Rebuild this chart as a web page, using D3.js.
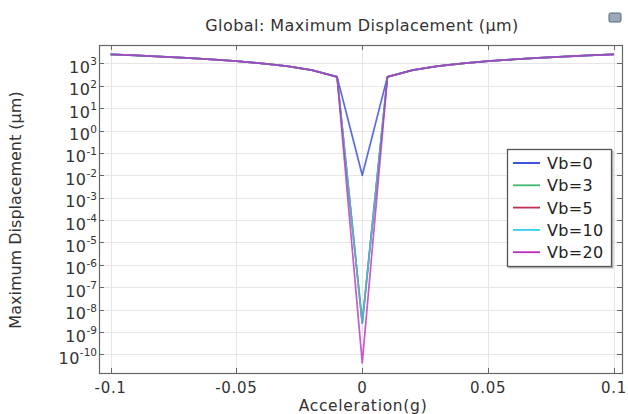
<!DOCTYPE html>
<html>
<head>
<meta charset="utf-8">
<script src="https://cdn.jsdelivr.net/npm/d3@7"></script>
<style>
  body { margin: 0; background: #fff; }
  svg { display: block; font-family: "DejaVu Sans", sans-serif; }
</style>
</head>
<body>
<div id="chart"></div>
<script>
// data
var accel = [-0.1, -0.09, -0.08, -0.07, -0.06, -0.05, -0.04, -0.03, -0.02, -0.01, 0,
             0.01, 0.02, 0.03, 0.04, 0.05, 0.06, 0.07, 0.08, 0.09, 0.1];
var outer = [2500, 2250, 2000, 1750, 1500, 1250, 1000, 750, 500, 250];
var vb0  = outer.concat([1.0e-2],  outer.slice().reverse());
var vb3  = outer.concat([2.6e-9],  outer.slice().reverse());
var vb5  = outer.concat([2.5e-9],  outer.slice().reverse());
var vb10 = outer.concat([2.4e-9],  outer.slice().reverse());
var vb20 = outer.concat([4.2e-11], outer.slice().reverse());
var seriesNames = ["Vb=0", "Vb=3", "Vb=5", "Vb=10", "Vb=20"];
var seriesValues = [vb0, vb3, vb5, vb10, vb20];
var colors = ["#2a40e0", "#40b870", "#c03050", "#30d0f0", "#b82cbc"];
var xTicks = [-0.1, -0.05, 0, 0.05, 0.1];
var yExps = [3, 2, 1, 0, -1, -2, -3, -4, -5, -6, -7, -8, -9, -10];

var width = 628, height = 414;
var margin = {left: 99, right: 6, top: 45, bottom: 41};

var svg = d3.select("#chart").append("svg")
    .attr("width", width)
    .attr("height", height);

var x = d3.scaleLinear()
    .domain([-0.1046, 0.1032])
    .range([margin.left, width - margin.right]);

var y = d3.scaleLog()
    .domain([Math.pow(10, -10.83), Math.pow(10, 3.82)])
    .range([height - margin.bottom, margin.top]);

var x0 = margin.left, x1 = width - margin.right;
var y0 = margin.top, y1 = height - margin.bottom;

// grid
var grid = svg.append("g").attr("stroke", "#e6e6e6").attr("stroke-width", 1);
grid.selectAll(".gx").data(xTicks).join("line")
    .attr("x1", d => Math.round(x(d)) + 0.5).attr("x2", d => Math.round(x(d)) + 0.5)
    .attr("y1", y0).attr("y2", y1);
grid.selectAll(".gy").data(yExps).join("line")
    .attr("x1", x0).attr("x2", x1)
    .attr("y1", d => Math.round(y(Math.pow(10, d))) + 0.5)
    .attr("y2", d => Math.round(y(Math.pow(10, d))) + 0.5);

// lines
var line = d3.line()
    .x((d, i) => x(accel[i]))
    .y(d => y(d));

svg.append("g").selectAll("path")
    .data(seriesValues)
    .join("path")
    .attr("fill", "none")
    .attr("stroke", (d, i) => colors[i])
    .attr("stroke-width", 1.7)
    .attr("stroke-opacity", 0.78)
    .attr("stroke-linejoin", "round")
    .attr("d", line);

// frame
svg.append("rect")
    .attr("x", x0 + 0.5).attr("y", y0 + 0.5)
    .attr("width", x1 - x0).attr("height", y1 - y0)
    .attr("fill", "none").attr("stroke", "#666").attr("stroke-width", 1.2);

// ticks on all four sides, pointing in
var ticks = svg.append("g").attr("stroke", "#666");
xTicks.forEach(function (t) {
  var px = Math.round(x(t)) + 0.5;
  ticks.append("line").attr("x1", px).attr("x2", px).attr("y1", y1).attr("y2", y1 - 5);
  ticks.append("line").attr("x1", px).attr("x2", px).attr("y1", y0).attr("y2", y0 + 5);
});
yExps.forEach(function (e) {
  var py = Math.round(y(Math.pow(10, e))) + 0.5;
  ticks.append("line").attr("x1", x0).attr("x2", x0 + 5).attr("y1", py).attr("y2", py);
  ticks.append("line").attr("x1", x1).attr("x2", x1 - 5).attr("y1", py).attr("y2", py);
});

// x tick labels
svg.append("g").selectAll("text")
    .data(xTicks)
    .join("text")
    .attr("x", d => x(d))
    .attr("y", y1 + 20)
    .attr("text-anchor", "middle")
    .attr("font-size", 15)
    .attr("letter-spacing", 0.7)
    .attr("fill", "#333")
    .text(d => d);

// y tick labels 10^n
var yl = svg.append("g").selectAll("text")
    .data(yExps)
    .join("text")
    .attr("x", x0 - 2)
    .attr("y", d => y(Math.pow(10, d)) + 9.5)
    .attr("text-anchor", "end")
    .attr("font-size", 16)
    .attr("letter-spacing", 0.5)
    .attr("fill", "#333");
yl.append("tspan").text("10");
yl.append("tspan")
    .attr("dy", -7.5)
    .attr("font-size", 10.5)
    .attr("letter-spacing", 0)
    .text(d => d < 0 ? "-" + (-d) : d);

// title and axis labels
svg.append("text")
    .attr("x", 362).attr("y", 31)
    .attr("text-anchor", "middle")
    .attr("font-size", 16)
    .attr("letter-spacing", 0.45)
    .attr("fill", "#333")
    .text("Global: Maximum Displacement (µm)");

svg.append("text")
    .attr("x", 363).attr("y", 411)
    .attr("text-anchor", "middle")
    .attr("font-size", 15.5)
    .attr("letter-spacing", 0.7)
    .attr("fill", "#333")
    .text("Acceleration(g)");

svg.append("text")
    .attr("transform", "translate(21," + 210 + ") rotate(-90)")
    .attr("text-anchor", "middle")
    .attr("font-size", 16)
    .attr("fill", "#333")
    .text("Maximum Displacement (µm)");

// little toolbar icon at top right
svg.append("rect")
    .attr("x", 609).attr("y", 13).attr("width", 12).attr("height", 9)
    .attr("rx", 1.5)
    .attr("fill", "#9aaabb").attr("stroke", "#556677");

// legend
var lg = svg.append("g").attr("transform", "translate(507,149)");
lg.append("rect")
    .attr("x", 1.5).attr("y", 1.5).attr("width", 105).attr("height", 118)
    .attr("fill", "#bbb");
lg.append("rect")
    .attr("x", 0.5).attr("y", 0.5).attr("width", 104).attr("height", 117)
    .attr("fill", "#fff").attr("stroke", "#555").attr("stroke-width", 1.3);
var item = lg.selectAll(".item")
    .data(seriesNames)
    .join("g")
    .attr("transform", (d, i) => "translate(0," + (14 + i * 22.3) + ")");
item.append("line")
    .attr("x1", 6).attr("x2", 33)
    .attr("stroke", (d, i) => colors[i])
    .attr("stroke-width", 1.8);
item.append("text")
    .attr("x", 40).attr("y", 6)
    .attr("font-size", 16)
    .attr("letter-spacing", 0.3)
    .attr("fill", "#222")
    .text(d => d);
</script>
</body>
</html>
